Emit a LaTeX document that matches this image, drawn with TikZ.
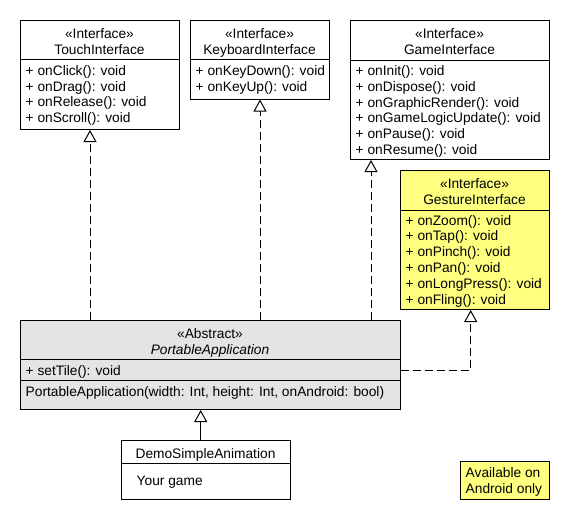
\documentclass[tikz,border=0pt]{standalone}
\usepackage{fontspec}
\setmainfont{Liberation Sans}
\usetikzlibrary{arrows.meta}
\definecolor{noteyellow}{RGB}{255,255,128}
\definecolor{absgray}{RGB}{228,228,228}
\begin{document}
\begin{tikzpicture}[x=1pt,y=-1pt,
  every node/.style={font=\fontsize{13.75}{16}\selectfont, inner sep=0pt},
  cls/.style={draw=black, line width=1pt, fill=white, anchor=north west, inner sep=0pt},
  sepline/.style={line width=1pt},
  hdr/.style={anchor=base},
  mtext/.style={anchor=base west},
  realize/.style={line width=1pt, dash pattern=on 8pt off 4pt, -{Triangle[open, width=13pt, length=12pt]}},
  inherit/.style={line width=1pt, -{Triangle[open, width=13pt, length=12pt]}}
]
\useasboundingbox (0,0) rectangle (570,520);
\fill[white] (0,0) rectangle (570,520);

% TouchInterface
\node[cls, minimum width=159pt, minimum height=109pt] (touch) at (20,20) {};
\draw[sepline] (touch.west |- 0,59.5) -- (touch.east |- 0,59.5);
\node[hdr] (touch-s) at (99.5,38) {«Interface»};
\node[hdr] (touch-n) at (99.5,54) {TouchInterface};
\foreach \t [count=\i] in {+ onClick(): void, + onDrag(): void, + onRelease(): void, + onScroll(): void}
  \node[mtext] (touch-m\i) at (25.5,75.3+15.8*\i-15.8) {\t};

% KeyboardInterface
\node[cls, minimum width=139pt, minimum height=78.5pt] (keyb) at (190,20) {};
\draw[sepline] (keyb.west |- 0,59.5) -- (keyb.east |- 0,59.5);
\node[hdr] (keyb-s) at (259.5,38) {«Interface»};
\node[hdr] (keyb-n) at (259.5,54) {KeyboardInterface};
\foreach \t [count=\i] in {+ onKeyDown(): void, + onKeyUp(): void}
  \node[mtext] (keyb-m\i) at (195.5,75.3+15.8*\i-15.8) {\t};

% GameInterface
\node[cls, minimum width=199pt, minimum height=139pt] (game) at (350,20) {};
\draw[sepline] (game.west |- 0,60) -- (game.east |- 0,60);
\node[hdr] (game-s) at (449.5,38) {«Interface»};
\node[hdr] (game-n) at (449.5,54) {GameInterface};
\foreach \t [count=\i] in {+ onInit(): void, + onDispose(): void, + onGraphicRender(): void, + onGameLogicUpdate(): void, + onPause(): void, + onResume(): void}
  \node[mtext] (game-m\i) at (355.5,75.4+15.85*\i-15.85) {\t};

% GestureInterface
\node[cls, fill=noteyellow, minimum width=149pt, minimum height=139pt] (gest) at (400,170) {};
\draw[sepline] (gest.west |- 0,210) -- (gest.east |- 0,210);
\node[hdr] (gest-s) at (474.5,188) {«Interface»};
\node[hdr] (gest-n) at (474.5,204) {GestureInterface};
\foreach \t [count=\i] in {+ onZoom(): void, + onTap(): void, + onPinch(): void, + onPan(): void, + onLongPress(): void, + onFling(): void}
  \node[mtext] (gest-m\i) at (405.5,225+15.95*\i-15.95) {\t};

% PortableApplication
\node[cls, fill=absgray, minimum width=380pt, minimum height=89pt] (pa) at (20,320) {};
\draw[sepline] (pa.west |- 0,359) -- (pa.east |- 0,359);
\draw[sepline] (pa.west |- 0,380) -- (pa.east |- 0,380);
\node[hdr] (pa-s) at (210,338) {«Abstract»};
\node[hdr] (pa-n) at (210,354) {\itshape PortableApplication};
\node[mtext] (pa-m1) at (25.5,375.3) {+ setTile(): void};
\node[mtext] (pa-c1) at (25.5,396) {PortableApplication(width: Int, height: Int, onAndroid: bool)};

% DemoSimpleAnimation
\node[cls, minimum width=169pt, minimum height=59pt] (demo) at (121,440) {};
\draw[sepline] (demo.west |- 0,463) -- (demo.east |- 0,463);
\node[hdr] (demo-n) at (205.5,458) {DemoSimpleAnimation};
\node[mtext] (demo-t) at (136.5,485) {Your game};

% Note
\node[cls, fill=noteyellow, minimum width=89pt, minimum height=38.5pt] (note) at (460,460.5) {};
\node[mtext] (note-1) at (465.5,477.5) {Available on};
\node[mtext] (note-2) at (465.5,493) {Android only};

% connectors
\coordinate (xt) at (90,0);
\coordinate (xg) at (371,0);
\coordinate (xge) at (470.7,0);
\coordinate (yge) at (0,370.3);
\coordinate (xd) at (200.7,0);
\draw[realize] (pa.north -| xt) -- (touch.south -| xt);
\draw[realize] (pa.north -| keyb.south) -- (keyb.south);
\draw[realize] (pa.north -| xg) -- (game.south -| xg);
\draw[realize] (pa.east |- yge) -| (gest.south -| xge);
\draw[inherit] (demo.north -| xd) -- (pa.south -| xd);
\end{tikzpicture}
\end{document}
